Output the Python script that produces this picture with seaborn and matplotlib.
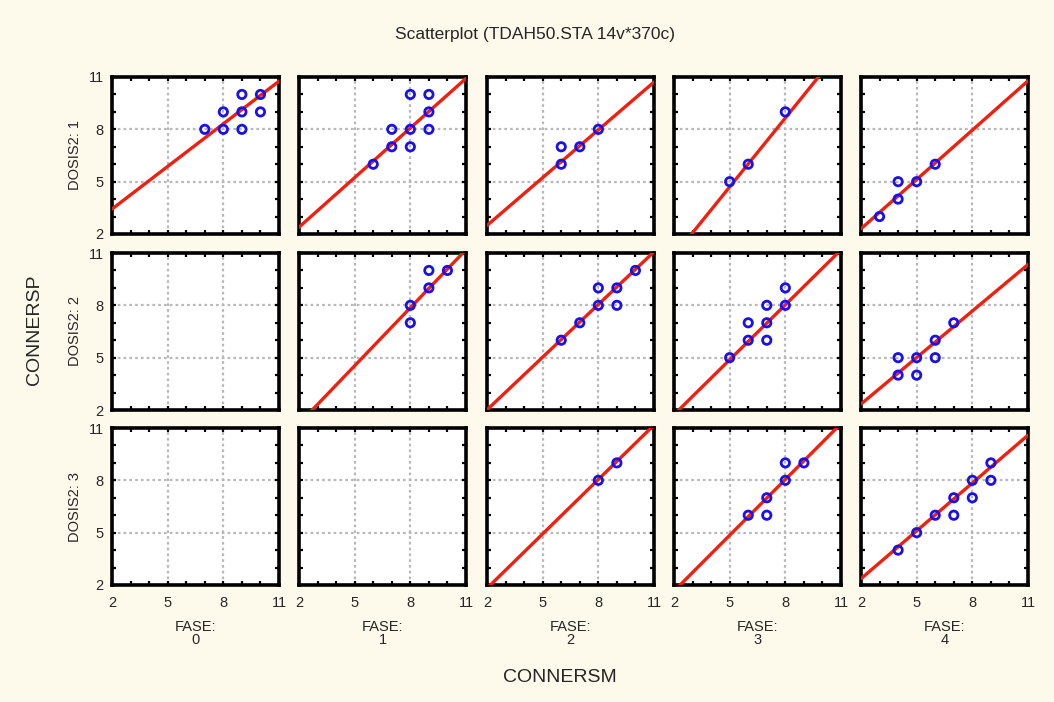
import numpy as np
import pandas as pd
import matplotlib.pyplot as plt
import seaborn as sns
from matplotlib.ticker import MultipleLocator, FixedLocator

# points per panel (dosis, fase)
DOSIS = [1] * 8 + [1] * 9 + [1] * 4 + [1] * 3 + [1] * 5 \
    + [2] * 5 + [2] * 7 + [2] * 8 + [2] * 7 \
    + [3] * 2 + [3] * 6 + [3] * 9
FASE = [0] * 8 + [1] * 9 + [2] * 4 + [3] * 3 + [4] * 5 \
    + [1] * 5 + [2] * 7 + [3] * 8 + [4] * 7 \
    + [2] * 2 + [3] * 6 + [4] * 9
CONNERSM = [7, 8, 9, 8, 9, 10, 9, 10,
            6, 7, 8, 7, 8, 9, 9, 8, 9,
            6, 6, 7, 8,
            5, 6, 8,
            3, 4, 4, 5, 6,
            8, 8, 9, 9, 10,
            6, 7, 8, 9, 8, 9, 10,
            5, 6, 7, 6, 7, 7, 8, 8,
            4, 5, 4, 5, 6, 6, 7,
            8, 9,
            6, 7, 7, 8, 8, 9,
            4, 5, 6, 7, 7, 8, 8, 9, 9]
CONNERSP = [8, 8, 8, 9, 9, 9, 10, 10,
            6, 7, 7, 8, 8, 8, 9, 10, 10,
            6, 7, 7, 8,
            5, 6, 9,
            3, 4, 5, 5, 6,
            7, 8, 9, 10, 10,
            6, 7, 8, 8, 9, 9, 10,
            5, 6, 6, 7, 7, 8, 8, 9,
            4, 4, 5, 5, 5, 6, 7,
            8, 9,
            6, 6, 7, 8, 9, 9,
            4, 5, 6, 6, 7, 7, 8, 8, 9]

# fitted lines: value at x=2 and x=11
LINE_DOSIS = [1, 1, 1, 1, 1, 2, 2, 2, 2, 3, 3, 3]
LINE_FASE = [0, 1, 2, 3, 4, 1, 2, 3, 4, 2, 3, 4]
LINE_AT_2 = [3.43, 2.39, 2.49, 0.75, 2.30, 1.21, 2.01, 1.73, 2.34, 1.81, 1.65, 2.36]
LINE_AT_11 = [10.76, 10.92, 10.71, 12.6, 10.78, 11.19, 11.07, 11.18, 10.34, 11.17, 11.25, 10.59]

TICKS = [2, 5, 8, 11]

df = pd.DataFrame({"DOSIS2": DOSIS, "FASE": FASE, "CONNERSM": CONNERSM, "CONNERSP": CONNERSP})
lines = pd.DataFrame({"DOSIS2": LINE_DOSIS, "FASE": LINE_FASE, "y2": LINE_AT_2, "y11": LINE_AT_11})

sns.set_style("white")
plt.rcParams["font.family"] = ["Liberation Sans", "DejaVu Sans"]

BG = "#FDFAEB"
W, H = 1054, 702
fig = plt.figure(figsize=(W / 100, H / 100), dpi=100, facecolor=BG)

col_left = [112, 299, 487, 674, 861]
row_top = [77, 253, 428]
pw, ph = 167, 157

for r, dosis in enumerate([1, 2, 3]):
    for c, fase in enumerate([0, 1, 2, 3, 4]):
        ax = fig.add_axes([col_left[c] / W, 1 - (row_top[r] + ph) / H, pw / W, ph / H])
        ax.set_facecolor("white")
        ax.set_xlim(2, 11)
        ax.set_ylim(2, 11)
        ax.xaxis.set_major_locator(FixedLocator(TICKS))
        ax.yaxis.set_major_locator(FixedLocator(TICKS))
        ax.xaxis.set_minor_locator(MultipleLocator(1))
        ax.yaxis.set_minor_locator(MultipleLocator(1))
        ax.grid(True, which="major", color="#B8B8B8", linestyle=(0, (1.2, 1.4)), linewidth=1.6)
        ax.set_axisbelow(True)
        ax.tick_params(which="both", direction="in", top=True, right=True,
                       bottom=True, left=True, length=3, width=1.6, color="black",
                       labelsize=10.5)
        ax.tick_params(axis="x", pad=8)
        ax.tick_params(axis="y", pad=6)
        for s in ax.spines.values():
            s.set_linewidth(2.6)
            s.set_color("black")

        sub = lines[(lines.DOSIS2 == dosis) & (lines.FASE == fase)]
        if len(sub):
            row = sub.iloc[0]
            sns.lineplot(x=[2, 11], y=[row.y2, row.y11], ax=ax, color="#F02010",
                         linewidth=2.4, zorder=3)
        pts = df[(df.DOSIS2 == dosis) & (df.FASE == fase)]
        if len(pts):
            sns.scatterplot(data=pts, x="CONNERSM", y="CONNERSP", ax=ax, marker="o",
                            s=36, facecolor="none", edgecolor="#1A10E8", linewidth=2.0,
                            zorder=4)
        ax.set_xlim(2, 11)
        ax.set_ylim(2, 11)
        ax.set_xlabel("")
        ax.set_ylabel("")
        if r < 2:
            ax.set_xticklabels([])
        if c > 0:
            ax.set_yticklabels([])
        if c == 0:
            ax.text(-0.22, 0.5, f"DOSIS2: {dosis}", transform=ax.transAxes, rotation=90,
                    ha="center", va="center", fontsize=10.5)
        if r == 2:
            ax.text(0.5, -0.31, f"FASE:\n{fase}", transform=ax.transAxes, ha="center",
                    va="center", fontsize=10.5, linespacing=0.95)

fig.text(535 / W, 1 - 35 / H, "Scatterplot (TDAH50.STA 14v*370c)", ha="center",
         va="center", fontsize=12.5)
fig.text(35 / W, 1 - 330 / H, "CONNERSP", ha="center", va="center", rotation=90,
         fontsize=14)
fig.text(560 / W, 1 - 677 / H, "CONNERSM", ha="center", va="center", fontsize=14)

fig.savefig("out.png", dpi=100, facecolor=BG)
